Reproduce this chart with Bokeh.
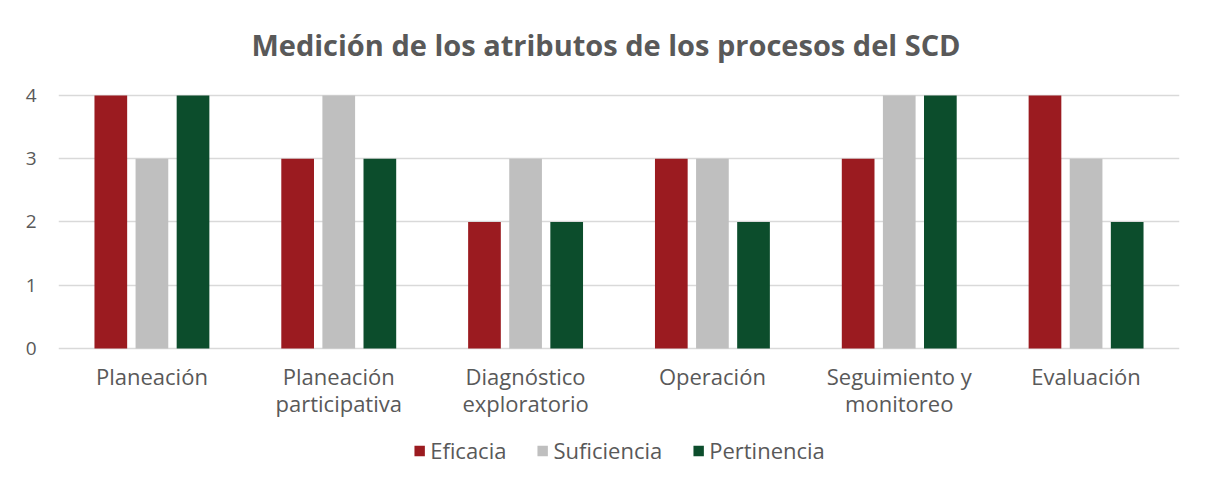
from bokeh.plotting import figure
from bokeh.models import ColumnDataSource, Range1d, Legend, LegendItem, FactorRange, Label
from bokeh.transform import dodge
from bokeh.core.properties import value
from bokeh.embed import file_html
from bokeh.resources import INLINE

categories = ["Planeación", "Planeación\nparticipativa", "Diagnóstico\nexploratorio",
              "Operación", "Seguimiento y\nmonitoreo", "Evaluación"]
eficacia = [4, 3, 2, 3, 3, 4]
suficiencia = [3, 4, 3, 3, 4, 3]
pertinencia = [4, 3, 2, 2, 4, 2]
series_names = ["Eficacia", "Suficiencia", "Pertinencia"]
colors = ["#9B1B20", "#BFBFBF", "#0C4D2C"]
y_ticks = [0, 1, 2, 3, 4]
title_text = "Medición de los atributos de los procesos del SCD"

FONT = "Open Sans"
TXT = "#595959"

src = ColumnDataSource(dict(cat=categories, ef=eficacia, su=suficiencia, pe=pertinencia))

Y_LO, Y_HI = -2.055, 5.50
p = figure(x_range=FactorRange(*categories), y_range=Range1d(Y_LO, Y_HI),
           width=1200, height=478, output_backend="svg", toolbar_location=None,
           min_border_left=58, min_border_right=21, min_border_top=0, min_border_bottom=0)

p.title.text = ""

renderers = []
for col, off, c in zip(["ef", "su", "pe"], [-0.22, 0.0, 0.22], colors):
    r = p.vbar(x=dodge("cat", off, range=p.x_range), top=col, width=0.175,
               source=src, fill_color=c, line_color=None)
    renderers.append(r)

# category labels drawn as text below the baseline
lbl_src = ColumnDataSource(dict(cat=categories, y=[-0.2] * len(categories)))
p.text(x="cat", y="y", text="cat", source=lbl_src, text_align="center",
       text_baseline="top", text_font=value(FONT), text_font_size="22px",
       text_color=TXT, text_line_height=0.91)

# chart title
p.add_layout(Label(x=len(categories) / 2, y=4.8, x_offset=-13, text=title_text,
                   text_align="center", text_baseline="middle", text_font=FONT,
                   text_font_size="29px", text_font_style="bold", text_color=TXT))

p.x_range.range_padding = 0
p.xaxis.visible = False

p.yaxis.ticker = y_ticks
p.yaxis.axis_line_color = None
p.yaxis.major_tick_line_color = None
p.yaxis.minor_tick_line_color = None
p.yaxis.major_label_text_font = FONT
p.yaxis.major_label_text_font_size = "19px"
p.yaxis.major_label_text_color = TXT
p.yaxis.major_label_standoff = 16

p.xgrid.grid_line_color = None
p.ygrid.grid_line_color = "#D9D9D9"
p.ygrid.grid_line_width = 1.5
p.outline_line_color = None

legend = Legend(items=[LegendItem(label=n, renderers=[r]) for n, r in zip(series_names, renderers)],
                orientation="horizontal", location="bottom_center")
legend.label_text_font = FONT
legend.label_text_font_size = "22px"
legend.label_text_color = TXT
legend.glyph_width = 13
legend.glyph_height = 13
legend.spacing = 29
legend.label_standoff = 5
legend.border_line_color = None
legend.background_fill_alpha = 0
legend.padding = 4
legend.margin = 13
p.add_layout(legend)

open("out.html", "w").write(file_html(p, INLINE))
